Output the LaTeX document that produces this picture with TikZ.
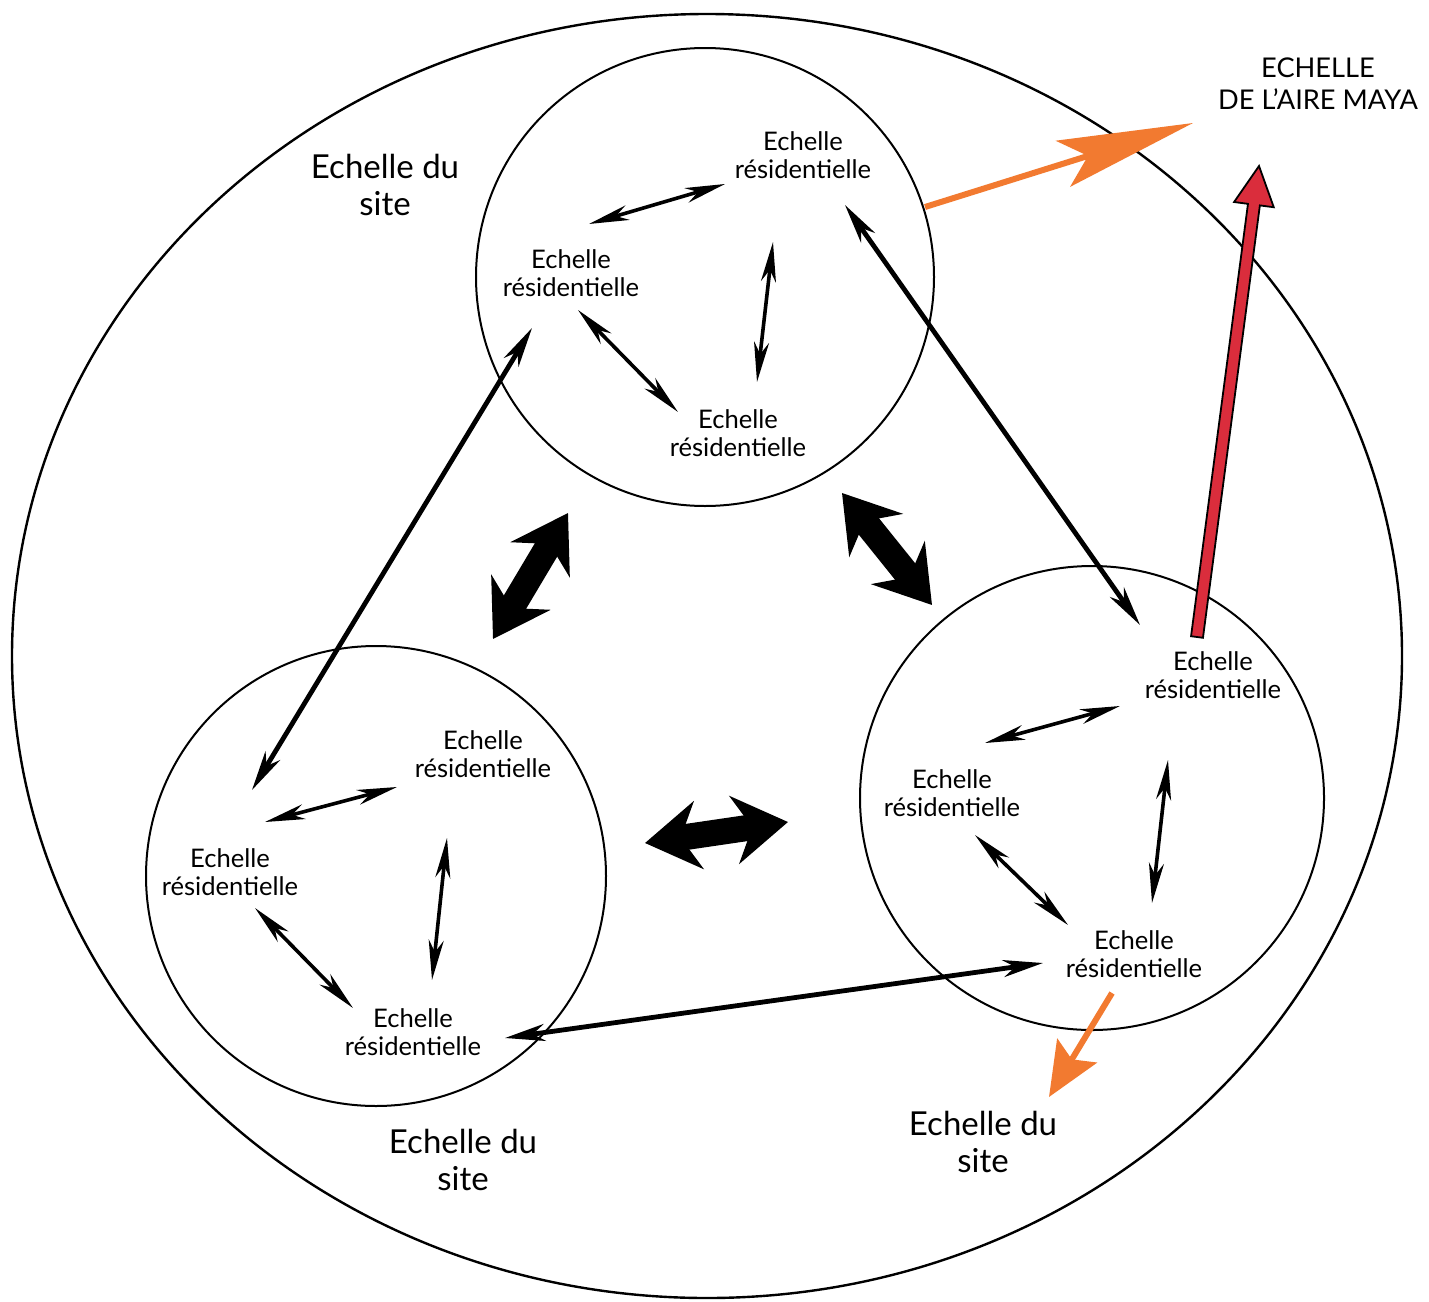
\documentclass[tikz,border=0pt]{standalone}
\usepackage{fontspec}
\setmainfont{Lato}
\usetikzlibrary{arrows.meta,shapes.geometric,calc}
\definecolor{orangeA}{RGB}{242,122,48}
\definecolor{redA}{RGB}{218,45,60}
\begin{document}
\begin{tikzpicture}[x=0.5pt,y=-0.5pt,
  ring/.style={draw, circle, line width=1pt, inner sep=0pt},
  lab/.style={align=center, inner sep=0pt, font=\fontsize{12.8}{14}\selectfont},
  biglab/.style={align=center, inner sep=0pt, font=\fontsize{16.5}{18.5}\selectfont},
  smallarr/.style={line width=1.8pt, {Stealth[length=20pt,width=7.5pt,inset=6pt]}-{Stealth[length=20pt,width=7.5pt,inset=6pt]}},
  longarr/.style={line width=2.4pt, {Stealth[length=20pt,width=8.5pt,inset=6pt]}-{Stealth[length=20pt,width=8.5pt,inset=6pt]}},
  fatarr/.style={line width=13pt, {Stealth[length=27pt,width=34pt,inset=9pt]}-{Stealth[length=27pt,width=34pt,inset=9pt]}},
]
\useasboundingbox (0,0) rectangle (1429,1301);
\fill[white] (0,0) rectangle (1429,1301);

% outer site ellipse and the three site circles
\node[draw, ellipse, line width=1.2pt, inner sep=0pt, minimum width=695pt, minimum height=642pt] (site) at (707,656) {};
\node[ring, minimum size=229pt] (c1) at (705,277) {};
\node[ring, minimum size=230pt] (c2) at (376,876) {};
\node[ring, minimum size=232pt] (c3) at (1092,798) {};

% labels
\node[lab] (t1) at (803,155) {Echelle\\résidentielle};
\node[lab] (t2) at (571,273) {Echelle\\résidentielle};
\node[lab] (t3) at (738,433) {Echelle\\résidentielle};
\node[lab] (b1) at (483,754) {Echelle\\résidentielle};
\node[lab] (b2) at (230,872) {Echelle\\résidentielle};
\node[lab] (b3) at (413,1032) {Echelle\\résidentielle};
\node[lab] (r1) at (1213,675) {Echelle\\résidentielle};
\node[lab] (r2) at (952,793) {Echelle\\résidentielle};
\node[lab] (r3) at (1134,954) {Echelle\\résidentielle};
\node[biglab] (s1) at (385,185) {Echelle du\\site};
\node[biglab] (s2) at (463,1160) {Echelle du\\site};
\node[biglab] (s3) at (983,1142) {Echelle du\\site};
\node[align=center, inner sep=0pt, font=\fontsize{13.6}{16}\selectfont] (maya) at (1318,84) {ECHELLE\\DE L'AIRE MAYA};

% arrow end points
\coordinate (ta1) at (589,224); \coordinate (ta2) at (725,184);
\coordinate (tb1) at (773,242); \coordinate (tb2) at (757,382);
\coordinate (tc1) at (578,310); \coordinate (tc2) at (678,412);
\coordinate (ba1) at (265,822); \coordinate (ba2) at (397,787);
\coordinate (bb1) at (447,838); \coordinate (bb2) at (432,980);
\coordinate (bc1) at (255,908); \coordinate (bc2) at (353,1008);
\coordinate (ra1) at (985,743); \coordinate (ra2) at (1120,706);
\coordinate (rb1) at (1168,760); \coordinate (rb2) at (1152,903);
\coordinate (rc1) at (975,835); \coordinate (rc2) at (1068,925);
\coordinate (la1) at (845,205); \coordinate (la2) at (1140,625);
\coordinate (lb1) at (532,328); \coordinate (lb2) at (252,790);
\coordinate (lc1) at (505,1038); \coordinate (lc2) at (1043,963);
\coordinate (fa1) at (493,639); \coordinate (fa2) at (568,513);
\coordinate (fb1) at (842,493); \coordinate (fb2) at (932,605);
\coordinate (fc1) at (645,843); \coordinate (fc2) at (788,822);
\coordinate (oa1) at (925,207); \coordinate (oa2) at (1193,123);
\coordinate (ob1) at (1112,993); \coordinate (ob2) at (1049,1097);
\coordinate (rd1) at (1197,637); \coordinate (rd2) at (1259,166);

% small arrows inside the circles
\draw[smallarr] (ta1) -- (ta2);
\draw[smallarr] (tb1) -- (tb2);
\draw[smallarr] (tc1) -- (tc2);
\draw[smallarr] (ba1) -- (ba2);
\draw[smallarr] (bb1) -- (bb2);
\draw[smallarr] (bc1) -- (bc2);
\draw[smallarr] (ra1) -- (ra2);
\draw[smallarr] (rb1) -- (rb2);
\draw[smallarr] (rc1) -- (rc2);

% long arrows between circles
\draw[longarr] (la1) -- (la2);
\draw[longarr] (lb1) -- (lb2);
\draw[longarr] (lc1) -- (lc2);

% fat arrows
\draw[fatarr] (fa1) -- (fa2);
\draw[fatarr] (fb1) -- (fb2);
\draw[fatarr] (fc1) -- (fc2);

% orange arrows
\draw[orangeA, line width=3pt, -{Stealth[length=68pt,width=24pt,inset=13pt]}] (oa1) -- (oa2);
\draw[orangeA, line width=3pt, -{Stealth[length=27pt,width=23pt,inset=5pt]}] (ob1) -- (ob2);

% red arrow
\coordinate (rdn) at ($(rd1)!0.918!(rd2)$);
\filldraw[fill=redA, draw=black, line width=0.9pt, line join=miter]
  ($(rd1)!3pt!90:(rd2)$) -- ($(rdn)!3pt!90:(rd2)$) -- ($(rdn)!10pt!90:(rd2)$) -- (rd2)
  -- ($(rdn)!10pt!-90:(rd2)$) -- ($(rdn)!3pt!-90:(rd2)$) -- ($(rd1)!3pt!-90:(rd2)$) -- cycle;
\end{tikzpicture}
\end{document}
